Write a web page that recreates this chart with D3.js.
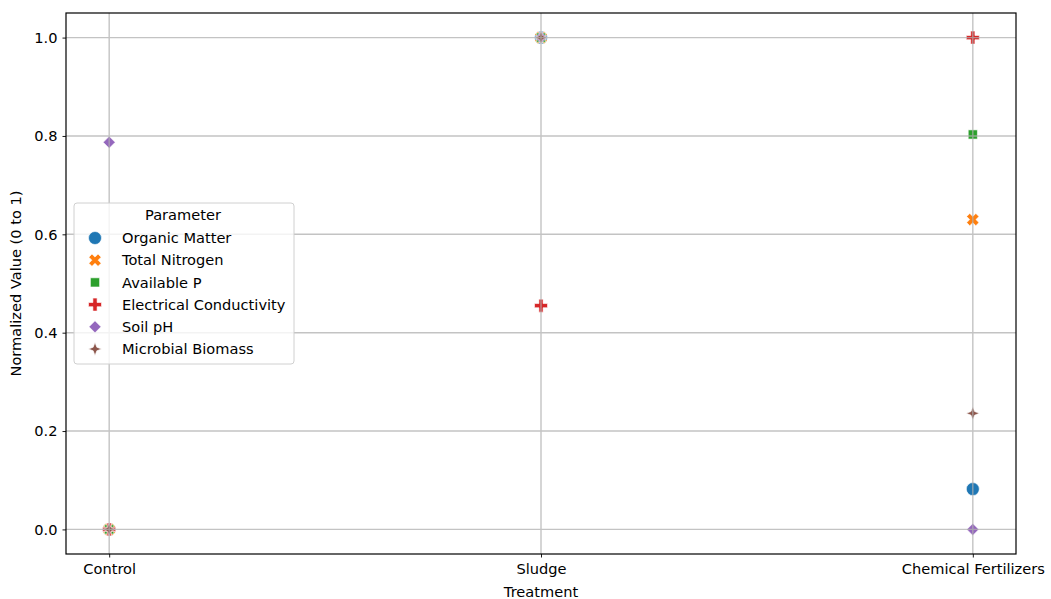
<!DOCTYPE html>
<html>
<head>
<meta charset="utf-8">
<script src="https://cdn.jsdelivr.net/npm/d3@7"></script>
<style>
body { margin: 0; background: #fff; }
text { font-family: "DejaVu Sans", sans-serif; }
</style>
</head>
<body>
<script>
// data
var treatments = ["Control", "Sludge", "Chemical Fertilizers"];
var parameters = ["Organic Matter", "Total Nitrogen", "Available P", "Electrical Conductivity", "Soil pH", "Microbial Biomass"];
var organicMatter = [0, 1, 0.082];
var totalNitrogen = [0, 1, 0.63];
var availableP = [0, 1, 0.803];
var electricalConductivity = [0, 0.455, 1];
var soilPH = [0.787, 1, 0];
var microbialBiomass = [0, 1, 0.236];
var yTicks = [0, 0.2, 0.4, 0.6, 0.8, 1.0];

var seriesValues = [organicMatter, totalNitrogen, availableP, electricalConductivity, soilPH, microbialBiomass];
var colors = ["#1f77b4", "#ff7f0e", "#2ca02c", "#d62728", "#9467bd", "#8c564b"];

// marker shapes (seaborn defaults: o, X, square, P, diamond, 4-pt star)
function poly(pts) { return "M" + pts.map(function(p){ return p[0] + "," + p[1]; }).join("L") + "Z"; }
var markers = [
  function() { var r = 6.5; return "M" + (-r) + ",0A" + r + "," + r + " 0 1,0 " + r + ",0A" + r + "," + r + " 0 1,0 " + (-r) + ",0Z"; },
  function() {
    var a = 6.5, t = 2.2, pts = [];
    var base = [[-t,-a],[t,-a],[t,-t],[a,-t],[a,t],[t,t],[t,a],[-t,a],[-t,t],[-a,t],[-a,-t],[-t,-t]];
    var c = Math.SQRT1_2;
    base.forEach(function(p){ pts.push([(p[0]-p[1])*c, (p[0]+p[1])*c]); });
    return poly(pts);
  },
  function() { var s = 4.6; return poly([[-s,-s],[s,-s],[s,s],[-s,s]]); },
  function() { var a = 6.5, t = 2.1; return poly([[-t,-a],[t,-a],[t,-t],[a,-t],[a,t],[t,t],[t,a],[-t,a],[-t,t],[-a,t],[-a,-t],[-t,-t]]); },
  function() { var s = 6; return poly([[0,-s],[s,0],[0,s],[-s,0]]); },
  function() { var s = 6.5, i = 1.8; return poly([[0,-s],[i,-i],[s,0],[i,i],[0,s],[-i,i],[-s,0],[-i,-i]]); }
];

var width = 1051, height = 599;
var margin = {left: 66, right: 35, top: 13, bottom: 45};
var fs = 14.6;

var svg = d3.select("body").append("svg").attr("width", width).attr("height", height);

var x = d3.scaleLinear().domain([-0.1, 2.1]).range([margin.left, width - margin.right]);
var y = d3.scaleLinear().domain([-0.05, 1.05]).range([height - margin.bottom, margin.top]);

// points
var points = [];
seriesValues.forEach(function(vals, s) {
  vals.forEach(function(v, i) { points.push({s: s, i: i, v: v}); });
});
svg.append("g").selectAll("path")
  .data(points)
  .enter().append("path")
    .attr("d", function(d){ return markers[d.s](); })
    .attr("transform", function(d){ return "translate(" + x(d.i) + "," + y(d.v) + ")"; })
    .attr("fill", function(d){ return colors[d.s]; })
    .attr("stroke", "#fff")
    .attr("stroke-width", 0.6);

// grid (drawn above the markers like matplotlib)
var grid = svg.append("g").attr("stroke", "#b0b0b0").attr("stroke-width", 1.4).attr("opacity", 0.75);
grid.selectAll("line.gx")
  .data(treatments)
  .enter().append("line")
    .attr("class", "gx")
    .attr("x1", function(d,i){ return x(i); }).attr("x2", function(d,i){ return x(i); })
    .attr("y1", margin.top).attr("y2", height - margin.bottom);
grid.selectAll("line.gy")
  .data(yTicks)
  .enter().append("line")
    .attr("class", "gy")
    .attr("y1", function(d){ return y(d); }).attr("y2", function(d){ return y(d); })
    .attr("x1", margin.left).attr("x2", width - margin.right);

// axes
var xAxis = d3.axisBottom(x).tickValues([0, 1, 2]).tickFormat(function(d){ return treatments[d]; }).tickSize(3.5).tickPadding(6);
var yAxis = d3.axisLeft(y).tickValues(yTicks).tickFormat(d3.format(".1f")).tickSize(3.5).tickPadding(5);

var gx = svg.append("g").attr("transform", "translate(0," + (height - margin.bottom) + ")").call(xAxis);
var gy = svg.append("g").attr("transform", "translate(" + margin.left + ",0)").call(yAxis);
[gx, gy].forEach(function(g) {
  g.select(".domain").remove();
  g.selectAll("text").attr("font-size", fs).attr("fill", "#000").style("font-family", "DejaVu Sans");
  g.selectAll("line").attr("stroke", "#000").attr("stroke-width", 0.9);
});

// frame
svg.append("rect")
  .attr("x", margin.left).attr("y", margin.top)
  .attr("width", width - margin.left - margin.right)
  .attr("height", height - margin.top - margin.bottom)
  .attr("fill", "none").attr("stroke", "#000").attr("stroke-width", 1.2);

// axis labels
svg.append("text")
  .attr("x", (margin.left + width - margin.right) / 2).attr("y", 597)
  .attr("text-anchor", "middle").attr("font-size", fs)
  .text("Treatment");
svg.append("text")
  .attr("transform", "translate(21," + ((margin.top + height - margin.bottom) / 2) + ") rotate(-90)")
  .attr("text-anchor", "middle").attr("font-size", fs)
  .text("Normalized Value (0 to 1)");

// legend
var legend = svg.append("g").attr("transform", "translate(74,203)");
legend.append("rect")
  .attr("width", 220).attr("height", 161).attr("rx", 3)
  .attr("fill", "#fff").attr("fill-opacity", 0.8)
  .attr("stroke", "#d0d0d0").attr("stroke-width", 1);
legend.append("text")
  .attr("x", 109).attr("y", 17).attr("text-anchor", "middle").attr("font-size", fs)
  .text("Parameter");
var items = legend.selectAll("g.item")
  .data(parameters)
  .enter().append("g")
    .attr("class", "item")
    .attr("transform", function(d,i){ return "translate(0," + (35 + i * 22.2) + ")"; });
items.append("path")
  .attr("d", function(d,i){ return markers[i](); })
  .attr("transform", "translate(21,0)")
  .attr("fill", function(d,i){ return colors[i]; })
  .attr("stroke", "#fff").attr("stroke-width", 0.6);
items.append("text")
  .attr("x", 48).attr("y", 0).attr("dy", "0.35em").attr("font-size", fs)
  .text(function(d){ return d; });
</script>
</body>
</html>
